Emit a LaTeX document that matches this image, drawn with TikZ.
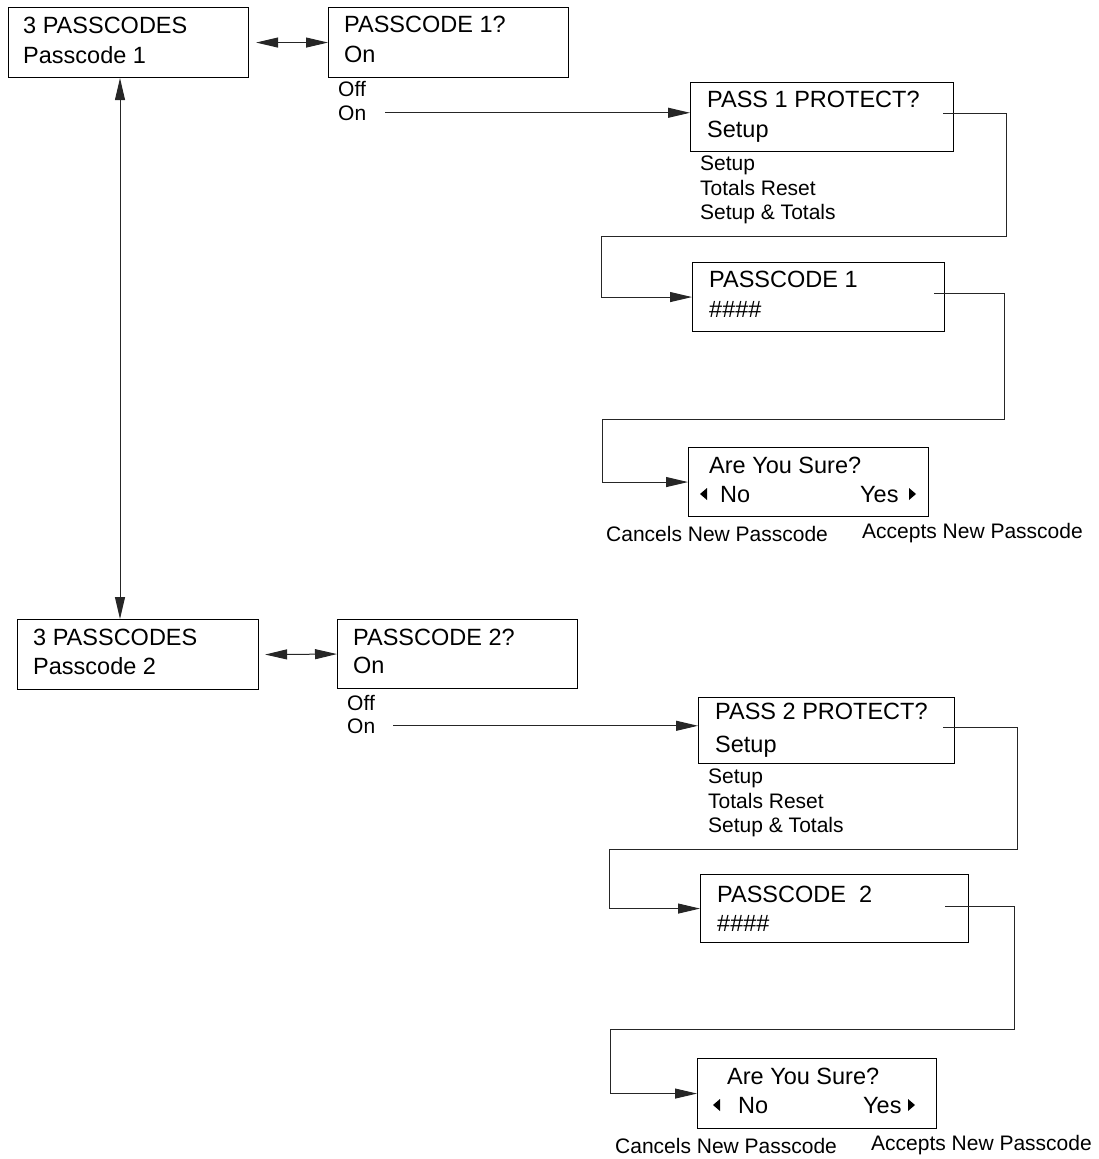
\documentclass[tikz,border=0pt]{standalone}
\usepackage{fontspec}
\setmainfont{Liberation Sans}
\usetikzlibrary{arrows.meta,calc}

\tikzset{
  panel/.style={draw=black, line width=1.1pt, anchor=north west, inner sep=0pt,
                minimum width=#1},
  big/.style={anchor=base west, inner sep=0pt, font=\fontsize{23.5}{28}\selectfont},
  small/.style={anchor=base west, inner sep=0pt, font=\fontsize{21}{25}\selectfont},
  link/.style={line width=1pt, draw=black!85},
  tip/.style={-{Triangle[length=22pt,width=10pt]}},
  twotips/.style={{Triangle[length=22pt,width=10pt]}-{Triangle[length=22pt,width=10pt]}},
  marker/.style={fill=black},
}

\begin{document}
\begin{tikzpicture}[x=1pt,y=-1pt]
\useasboundingbox (0,0) rectangle (1099,1159);

% ---------------- Passcode 1 menu ----------------
\node[panel=240pt, minimum height=70pt] (a1) at (8,7) {};
\node[big] (a1l1) at (23,33) {3 PASSCODES};
\node[big] (a1l2) at (23,63) {Passcode 1};

\node[panel=240pt, minimum height=70pt] (b1) at (328,7) {};
\node[big] (b1l1) at (344,32) {PASSCODE 1?};
\node[big] (b1l2) at (344,62) {On};
\node[small] (off1) at (338,96) {Off};
\node[small] (on1) at (338,120) {On};

\node[panel=263pt, minimum height=69pt] (c1) at (690,82) {};
\node[big] (c1l1) at (707,107) {PASS 1 PROTECT?};
\node[big] (c1l2) at (707,137) {Setup};
\node[small] (c1o1) at (700,170) {Setup};
\node[small] (c1o2) at (700,195) {Totals Reset};
\node[small] (c1o3) at (700,219) {Setup \& Totals};

\node[panel=252pt, minimum height=69pt] (d1) at (692,262) {};
\node[big] (d1l1) at (709,287) {PASSCODE 1};
\node[big] (d1l2) at (709,317) {\#\#\#\#};

\node[panel=240pt, minimum height=69pt] (e1) at (688,447) {};
\node[big] (e1l1) at (709,473) {Are You Sure?};
\node[big] (e1no) at (720,502) {No};
\node[big] (e1yes) at (860,502) {Yes};
\fill[marker] (700,494) -- (707,488) -- (707,500) -- cycle;
\fill[marker] (916,494) -- (909,488) -- (909,500) -- cycle;
\node[small] (e1c) at (606,541) {Cancels New Passcode};
\node[small] (e1a) at (862,538) {Accepts New Passcode};

\draw[link,twotips] ($(a1.east)+(7,0)$) -- (b1.west);
\draw[link,tip] ($(on1.east)+(19,0)$) -- (c1.west |- on1.east);
\coordinate (s1) at ($(c1.north east)+(-11,31)$);
\draw[link,tip] (s1) -| (1006,236) -| ([xshift=-91pt]d1.west) -- (d1.west);
\coordinate (s2) at ($(d1.north east)+(-11,31)$);
\draw[link,tip] (s2) -| (1004,419) -| ([xshift=-86pt]e1.west) -- (e1.west);

% ---------------- Passcode 2 menu ----------------
\node[panel=241pt, minimum height=70pt] (a2) at (17,619) {};
\node[big] (a2l1) at (33,645) {3 PASSCODES};
\node[big] (a2l2) at (33,674) {Passcode 2};

\node[panel=240pt, minimum height=69pt] (b2) at (337,619) {};
\node[big] (b2l1) at (353,645) {PASSCODE 2?};
\node[big] (b2l2) at (353,673) {On};
\node[small] (off2) at (347,710) {Off};
\node[small] (on2) at (347,733) {On};

\node[panel=256pt, minimum height=66pt] (c2) at (698,697) {};
\node[big] (c2l1) at (715,719) {PASS 2 PROTECT?};
\node[big] (c2l2) at (715,752) {Setup};
\node[small] (c2o1) at (708,783) {Setup};
\node[small] (c2o2) at (708,808) {Totals Reset};
\node[small] (c2o3) at (708,832) {Setup \& Totals};

\node[panel=268pt, minimum height=68pt] (d2) at (700,874) {};
\node[big] (d2l1) at (717,902) {PASSCODE~~2};
\node[big] (d2l2) at (717,931) {\#\#\#\#};

\node[panel=239pt, minimum height=70pt] (e2) at (697,1058) {};
\node[big] (e2l1) at (727,1084) {Are You Sure?};
\node[big] (e2no) at (738,1113) {No};
\node[big] (e2yes) at (863,1113) {Yes};
\fill[marker] (713,1105) -- (720,1099) -- (720,1111) -- cycle;
\fill[marker] (915,1105) -- (908,1099) -- (908,1111) -- cycle;
\node[small] (e2c) at (615,1153) {Cancels New Passcode};
\node[small] (e2a) at (871,1150) {Accepts New Passcode};

\draw[link,twotips] ($(a2.east)+(6,0)$) -- (b2.west);
\draw[link,tip] ($(on2.east)+(18,0)$) -- (c2.west |- on2.east);
\coordinate (s3) at ($(c2.north east)+(-12,30)$);
\draw[link,tip] (s3) -| (1017,849) -| ([xshift=-91pt]d2.west) -- (d2.west);
\coordinate (s4) at ($(d2.north east)+(-24,32)$);
\draw[link,tip] (s4) -| (1014,1029) -| ([xshift=-87pt]e2.west) -- (e2.west);

% ---------------- link between the two menus ----------------
\coordinate (v1) at ($(a1.south west)+(112,0)$);
\draw[link,twotips] (v1) -- (v1 |- a2.north);
\end{tikzpicture}
\end{document}
